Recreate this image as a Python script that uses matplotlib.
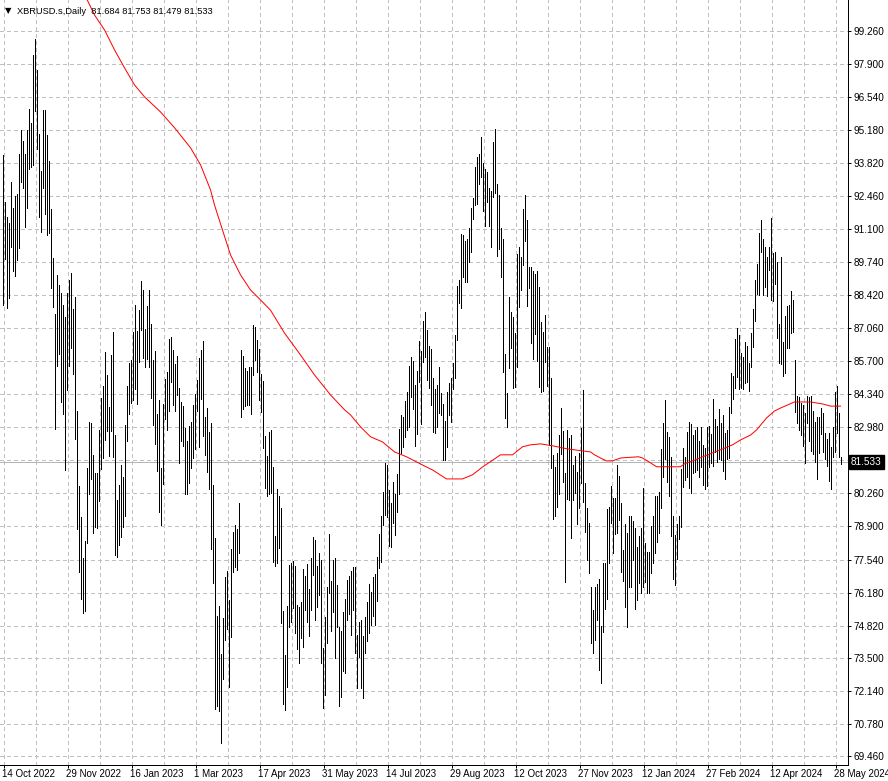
import matplotlib
matplotlib.use('Agg')
import matplotlib.pyplot as plt
from matplotlib.transforms import blended_transform_factory, ScaledTranslation

plt.rcParams['font.family'] = ['Liberation Sans', 'DejaVu Sans']
plt.rcParams['lines.scale_dashes'] = False

symbol = "XBRUSD.s,Daily"
last_ohlc = [81.684, 81.753, 81.479, 81.533]

highs = [
    94.15, 92.23, 91.62, 91.37, 93.06, 91.99, 92.48, 92.56, 94.19, 95.19,
    94.74, 94.19, 95.19, 96.04, 95.48, 98.27, 98.93, 97.64, 95.01, 93.51,
    96.00, 96.00, 94.97, 93.90, 91.93, 89.93, 87.62, 89.22, 88.81, 88.50,
    88.00, 87.50, 88.50, 89.00, 89.29, 87.81, 88.31, 83.64, 80.56, 79.27,
    77.60, 78.31, 81.30, 83.17, 83.15, 81.83, 81.09, 81.09, 82.86, 84.17,
    84.67, 86.06, 85.10, 83.80, 85.94, 86.88, 82.65, 79.99, 80.60, 81.42,
    80.93, 83.06, 84.67, 85.60, 85.73, 86.88, 87.99, 86.92, 87.79, 88.98,
    88.61, 87.01, 87.95, 88.61, 87.21, 85.73, 86.10, 83.52, 84.09, 81.30,
    83.93, 84.95, 85.24, 86.60, 86.68, 86.14, 85.57, 85.90, 84.58, 84.01,
    83.85, 82.94, 82.41, 83.02, 83.19, 83.89, 84.34, 84.91, 85.82, 86.14,
    86.51, 83.41, 83.76, 82.78, 83.15, 80.60, 78.41, 75.24, 75.63, 73.66,
    75.14, 76.81, 77.07, 75.88, 77.99, 78.67, 78.96, 78.79, 79.87, 86.14,
    85.90, 85.40, 85.28, 85.44, 85.44, 87.18, 87.09, 86.57, 86.18, 85.16,
    84.88, 82.61, 81.79, 82.78, 82.86, 81.34, 78.51, 80.44, 80.15, 79.66,
    75.44, 73.62, 75.63, 77.32, 77.41, 77.48, 77.27, 75.67, 75.60, 75.80,
    77.15, 76.88, 77.36, 76.33, 77.60, 78.48, 78.34, 77.27, 77.80, 77.52,
    73.92, 75.18, 76.41, 78.59, 76.66, 77.52, 77.60, 76.49, 74.77, 74.62,
    75.40, 75.92, 76.70, 76.88, 77.07, 77.25, 77.22, 74.44, 74.99, 75.06,
    74.40, 75.20, 75.80, 76.54, 76.21, 76.82, 76.95, 77.64, 78.57, 79.33,
    80.31, 81.50, 81.42, 80.40, 79.88, 80.74, 80.22, 81.07, 82.90, 83.46,
    83.38, 84.05, 84.42, 85.50, 85.86, 85.71, 84.69, 85.30, 86.50, 86.12,
    87.33, 87.69, 86.96, 86.31, 86.17, 84.98, 84.53, 84.71, 85.46, 84.37,
    83.93, 83.23, 84.43, 84.80, 84.98, 85.60, 86.76, 88.77, 89.02, 90.91,
    90.87, 90.60, 90.70, 91.14, 91.96, 92.37, 93.67, 94.08, 94.18, 94.90,
    93.84, 93.56, 93.44, 92.78, 92.69, 94.70, 95.20, 92.96, 92.50, 91.14,
    90.69, 85.98, 84.36, 88.33, 87.70, 87.51, 86.85, 90.09, 90.36, 89.95,
    91.92, 92.51, 91.48, 89.54, 89.54, 89.40, 89.26, 89.37, 88.74, 87.31,
    86.90, 87.58, 86.28, 86.25, 85.01, 81.83, 81.33, 81.90, 82.65, 83.75,
    82.83, 81.08, 82.86, 82.52, 82.65, 81.42, 81.79, 81.15, 81.90, 82.93,
    84.50, 80.67, 79.64, 79.03, 76.43, 75.47, 76.43, 76.54, 76.74, 74.81,
    77.41, 77.39, 79.60, 79.71, 80.56, 80.05, 80.08, 81.42, 80.97, 79.85,
    77.93, 79.00, 78.62, 79.33, 79.33, 79.14, 78.82, 78.07, 78.51, 78.82,
    80.46, 78.21, 77.86, 77.86, 78.92, 79.33, 80.15, 80.15, 80.33, 82.07,
    83.16, 84.09, 82.79, 82.59, 81.76, 79.33, 78.55, 79.00, 79.33, 81.24,
    82.11, 81.74, 82.79, 83.17, 83.11, 82.65, 82.86, 82.97, 82.42, 82.97,
    82.24, 82.10, 83.00, 83.02, 82.69, 84.13, 83.30, 83.04, 83.72, 83.16,
    83.47, 82.75, 82.86, 83.82, 85.19, 85.08, 86.58, 87.03, 86.76, 86.01,
    85.84, 86.49, 86.31, 85.62, 86.86, 87.81, 89.02, 89.68, 90.93, 91.48,
    90.69, 90.36, 89.95, 90.39, 91.55, 90.14, 90.18, 89.77, 87.21, 89.95,
    86.49, 87.54, 87.95, 87.99, 88.58, 88.20, 85.73, 84.26, 84.23, 83.98,
    83.89, 83.54, 84.26, 84.20, 84.26, 83.65, 83.20, 83.41, 83.41, 83.75,
    83.54, 82.72, 82.48, 82.72, 82.17, 82.97, 84.43, 84.67, 83.54, 81.753,
]

lows = [
    88.00, 89.87, 87.85, 88.27, 90.36, 89.40, 89.18, 89.84, 90.35, 93.06,
    92.81, 91.21, 91.96, 93.56, 93.67, 93.74, 95.97, 94.38, 91.62, 90.98,
    92.78, 91.71, 90.85, 90.93, 88.70, 87.90, 82.90, 85.50, 86.00, 84.00,
    83.50, 81.20, 84.50, 85.50, 86.24, 85.15, 82.50, 78.78, 77.04, 75.91,
    75.36, 75.44, 78.23, 80.22, 80.86, 78.62, 78.89, 78.85, 79.96, 81.27,
    81.72, 82.45, 82.82, 81.81, 82.83, 81.76, 77.73, 77.63, 78.12, 78.47,
    78.89, 79.34, 82.42, 83.53, 83.98, 84.09, 84.53, 83.94, 85.67, 86.97,
    85.83, 85.46, 85.76, 85.46, 84.19, 83.07, 82.30, 81.19, 79.51, 78.96,
    80.64, 83.31, 82.87, 83.65, 84.83, 83.89, 83.65, 84.30, 81.52, 82.42,
    82.22, 80.22, 80.22, 80.70, 81.31, 81.72, 82.08, 83.65, 82.18, 84.13,
    82.63, 81.83, 81.15, 80.45, 77.99, 76.59, 71.39, 71.54, 71.33, 70.02,
    72.62, 74.24, 74.70, 72.32, 74.37, 77.04, 77.25, 77.11, 77.79, 83.38,
    83.71, 83.84, 83.89, 83.89, 83.52, 85.13, 85.73, 85.25, 84.10, 83.60,
    82.13, 80.49, 80.16, 80.23, 80.26, 77.45, 77.29, 77.41, 78.03, 74.95,
    71.62, 71.36, 72.32, 74.78, 74.97, 75.56, 74.51, 73.85, 73.31, 74.33,
    73.96, 75.47, 74.99, 74.41, 75.47, 76.92, 75.06, 75.61, 76.08, 73.28,
    71.46, 71.98, 74.13, 76.18, 74.62, 75.40, 73.48, 74.78, 71.54, 71.88,
    72.98, 72.87, 75.06, 75.30, 74.44, 75.47, 73.72, 72.25, 73.55, 72.28,
    71.84, 73.69, 74.21, 74.51, 74.85, 75.22, 74.85, 75.85, 77.21, 77.45,
    78.96, 79.37, 79.30, 78.11, 78.07, 79.05, 78.55, 79.51, 80.22, 81.90,
    82.17, 82.56, 82.86, 82.99, 84.20, 83.74, 82.20, 82.68, 84.85, 83.11,
    85.66, 85.87, 84.91, 84.57, 83.89, 82.79, 82.72, 82.99, 83.54, 83.48,
    81.63, 81.63, 82.17, 83.48, 83.20, 84.53, 84.98, 86.55, 88.06, 87.86,
    89.16, 88.95, 88.95, 89.77, 90.18, 91.52, 92.10, 92.14, 92.96, 93.23,
    91.86, 91.24, 92.23, 91.24, 90.39, 92.44, 92.58, 90.00, 90.30, 89.15,
    85.25, 83.34, 82.97, 85.39, 86.21, 84.57, 84.61, 85.46, 87.92, 88.61,
    89.63, 90.63, 87.95, 88.68, 86.44, 85.76, 86.80, 85.71, 84.64, 84.43,
    84.47, 85.66, 84.66, 82.24, 81.28, 79.19, 79.33, 79.71, 80.23, 81.86,
    80.74, 76.63, 80.01, 79.99, 78.44, 79.99, 80.26, 79.00, 79.64, 80.67,
    79.92, 78.68, 77.52, 76.97, 74.13, 73.69, 74.24, 75.06, 73.00, 72.48,
    74.58, 75.50, 75.91, 77.39, 79.03, 77.82, 78.59, 78.62, 79.16, 77.04,
    76.67, 75.58, 74.76, 76.43, 76.43, 77.52, 75.50, 75.88, 76.56, 76.15,
    76.43, 76.63, 76.18, 76.18, 77.00, 77.41, 77.82, 78.27, 78.64, 79.64,
    80.92, 81.66, 80.74, 80.15, 78.52, 76.73, 76.50, 77.55, 78.37, 78.86,
    80.53, 80.81, 80.94, 80.49, 80.29, 81.11, 81.15, 81.22, 80.94, 81.35,
    80.60, 80.42, 80.56, 81.35, 81.49, 81.38, 81.97, 81.56, 81.65, 81.63,
    81.19, 80.83, 81.65, 81.70, 83.54, 84.12, 84.57, 85.02, 84.53, 84.57,
    84.53, 84.78, 84.84, 84.47, 85.43, 86.28, 87.35, 88.44, 88.40, 90.18,
    88.40, 88.74, 88.36, 89.43, 88.20, 88.17, 88.85, 86.62, 85.60, 85.57,
    85.08, 85.19, 86.21, 86.21, 86.86, 86.90, 83.60, 83.13, 82.86, 82.65,
    82.20, 81.52, 83.16, 82.42, 82.01, 81.87, 81.56, 80.83, 81.93, 82.69,
    81.97, 81.65, 81.38, 80.78, 80.42, 81.74, 81.97, 82.72, 81.74, 81.479,
]

# moving average (red) read at sample bars
ma_idx = [41, 46, 51, 56, 61, 66, 71, 79, 86, 94, 99, 104, 106, 110, 114, 119,
          124, 129, 134, 141, 149, 156, 164, 171, 174, 179, 184, 190, 196, 202,
          207, 211, 215, 222, 230, 235, 240, 246, 249, 255, 260, 264, 269, 275,
          282, 290, 294, 296, 299, 302, 305, 309, 318, 320, 324, 327, 336, 339,
          341, 345, 351, 355, 360, 365, 369, 374, 377, 382, 386, 389, 396, 404,
          410, 414, 419]
ma_val = [100.75, 99.90, 99.29, 98.47, 97.73, 97.03, 96.54, 95.92, 95.27, 94.45,
          93.75, 92.72, 92.10, 91.07, 90.05, 89.23, 88.61, 88.20, 87.78, 86.84,
          85.94, 85.12, 84.30, 83.69, 83.48, 82.99, 82.58, 82.37, 81.96, 81.76,
          81.55, 81.38, 81.22, 80.85, 80.85, 81.02, 81.34, 81.67, 81.84, 81.84,
          82.17, 82.25, 82.29, 82.21, 82.09, 82.00, 81.96, 81.84, 81.71, 81.59,
          81.59, 81.71, 81.76, 81.71, 81.51, 81.35, 81.35, 81.35, 81.47, 81.59,
          81.79, 81.92, 82.08, 82.25, 82.45, 82.65, 82.86, 83.35, 83.64, 83.76,
          84.01, 84.01, 83.93, 83.84, 83.84]

date_idx = [0, 32, 64, 96, 128, 160, 192, 224, 256, 288, 320, 352, 384, 416]
date_labels = ["14 Oct 2022", "29 Nov 2022", "16 Jan 2023", "1 Mar 2023",
               "17 Apr 2023", "31 May 2023", "14 Jul 2023", "29 Aug 2023",
               "12 Oct 2023", "27 Nov 2023", "12 Jan 2024", "27 Feb 2024",
               "12 Apr 2024", "28 May 2024"]
price_ticks = [99.26, 97.90, 96.54, 95.18, 93.82, 92.46, 91.10, 89.74, 88.42,
               87.06, 85.70, 84.34, 82.98, 81.62, 80.26, 78.90, 77.54, 76.18,
               74.82, 73.50, 72.14, 70.78, 69.46]
grid_step = 16

# ---------------- layout (pixels) ----------------
W, H = 888, 781
PX = 0.72  # one pixel in points at 100 dpi
AX_R, AX_B = 848, 765
Y_REF, P_REF, PX_PER_UNIT = 229.3, 91.1, 24.354


def price_at(ypix):
    return P_REF - (ypix - Y_REF) / PX_PER_UNIT


fig = plt.figure(figsize=(W / 100, H / 100), dpi=100)
fig.patch.set_facecolor('white')
ax = fig.add_axes([0, 1 - AX_B / H, AX_R / W, AX_B / H])
ax.set_facecolor('white')
ax.set_ylim(price_at(AX_B), price_at(0))
ax.set_xlim(-1.25, (AX_R - 2.5) / 2)

n = min(len(highs), len(lows))
xs = list(range(n))

# grid
grid_col = '#c0c0c0'
for gx in range(0, n + 4, grid_step):
    ax.axvline(gx + 0.5, color=grid_col, lw=PX, ls=(0, (3 * PX, 3 * PX)),
               antialiased=False, zorder=0)
for py in price_ticks:
    ax.axhline(py, color=grid_col, lw=PX, ls=(0, (3 * PX, 3 * PX)),
               antialiased=False, zorder=0)

# bid line
ax.axhline(last_ohlc[3], color='#b4b4b4', lw=PX, antialiased=False, zorder=1)

# bars
ax.vlines(xs, lows[:n], highs[:n], colors='black', lw=PX, antialiased=False,
          zorder=3)

# moving average
ax.plot(ma_idx, ma_val, color='red', lw=PX, zorder=4, clip_on=True)

# spines
for s in ['left', 'top']:
    ax.spines[s].set_visible(False)
for s in ['right', 'bottom']:
    ax.spines[s].set_color('black')
    ax.spines[s].set_linewidth(PX)

ax.yaxis.tick_right()
ax.set_yticks(price_ticks)
ax.set_yticklabels([f"{v:.3f}" for v in price_ticks])
ax.tick_params(axis='y', direction='out', length=3 * PX, width=PX,
               labelsize=7.2, pad=2, colors='black')
ax.set_xticks([d + 0.5 for d in date_idx])
ax.set_xticklabels(date_labels, ha='left')
ax.tick_params(axis='x', direction='out', length=3 * PX, width=PX,
               labelsize=7.0, pad=1, colors='black')
shift = ScaledTranslation(-2 / 100, 0, fig.dpi_scale_trans)
for lab in ax.get_xticklabels():
    lab.set_transform(lab.get_transform() + shift)

# hide the tick label hidden by last price box
for lab in ax.get_yticklabels():
    if lab.get_text() == "81.620":
        lab.set_visible(False)

# last price box
trans = blended_transform_factory(ax.transAxes, ax.transData)
ax.text(1.0 + 3 / AX_R, last_ohlc[3], f"{last_ohlc[3]:.3f}", transform=trans,
        ha='left', va='center', fontsize=7.2, color='white', zorder=10,
        bbox=dict(boxstyle='square,pad=0.2', fc='black', ec='black'),
        clip_on=False)

# header
fig.text(5 / W, 1 - 11 / H, "\u25BC", fontsize=6, family=['DejaVu Sans'],
         va='center', ha='left', color='black')
fig.text(17 / W, 1 - 11 / H,
         f"{symbol}  " + " ".join(f"{v:.3f}" for v in last_ohlc),
         fontsize=6.7, va='center', ha='left', color='black')

fig.savefig('out.png', dpi=100, facecolor='white')
